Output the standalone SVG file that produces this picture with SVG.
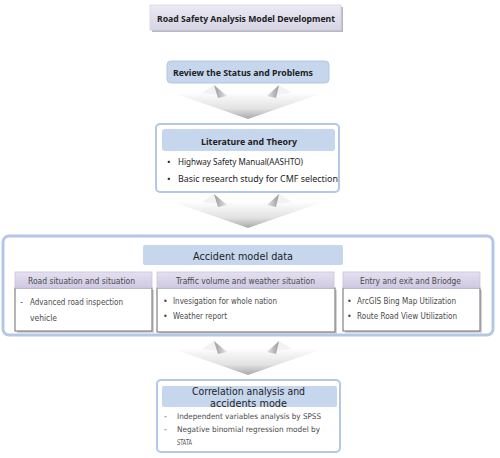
<svg xmlns="http://www.w3.org/2000/svg" width="500" height="458" viewBox="0 0 500 458">
<defs>
<linearGradient id="arrowG" x1="0" y1="0" x2="0" y2="1">
<stop offset="0" stop-color="#fdfdfd"/>
<stop offset="0.6" stop-color="#e2e2e2"/>
<stop offset="1" stop-color="#a8a8a8"/>
</linearGradient>
<linearGradient id="finG" x1="0" y1="0" x2="1" y2="0">
<stop offset="0" stop-color="#9a9a9a"/>
<stop offset="1" stop-color="#e6e6e6"/>
</linearGradient>
<linearGradient id="finG2" x1="1" y1="0" x2="0" y2="0">
<stop offset="0" stop-color="#9a9a9a"/>
<stop offset="1" stop-color="#e6e6e6"/>
</linearGradient>
<linearGradient id="subHead" x1="0" y1="0" x2="0" y2="1">
<stop offset="0" stop-color="#e4e0f0"/>
<stop offset="1" stop-color="#cfc8e2"/>
</linearGradient>
<linearGradient id="titleG" x1="0" y1="0" x2="0" y2="1">
<stop offset="0" stop-color="#eceaf3"/>
<stop offset="1" stop-color="#d6d3e4"/>
</linearGradient>
<g id="arrow">
<polygon points="-75,6 75,6 0,32" fill="url(#arrowG)"/>
<polygon points="-46,6 -34,-2 -21,9" fill="#f2f2f2"/>
<polygon points="-34,-2 -21,9 -30,11" fill="url(#finG)"/>
<polygon points="44,6 31,-2 19,9" fill="#f2f2f2"/>
<polygon points="31,-2 19,9 28,11" fill="url(#finG2)"/>
</g>
</defs>
<style>
.t{font-family:"Noto Sans","Liberation Sans",sans-serif;fill:#222}
.b{font-weight:bold}
.s{font-family:"DejaVu Sans","Liberation Sans",sans-serif;fill:#4a4a4a}
.h{font-family:"DejaVu Sans","Liberation Sans",sans-serif;fill:#1e1e1e}
.blue{fill:#c6d6ec}
.outer{fill:#fff;stroke:#b4c7e7}
.body{fill:#fff;stroke:#6a6a6a;stroke-width:1}
.shadow{fill:#d4d4d8}
.head{fill:url(#subHead);stroke:#c8c2dc;stroke-width:0.8}
</style>
<rect width="500" height="458" fill="#fff"/>

<g id="connectors">
<use href="#arrow" x="248" y="87"/>
<use href="#arrow" x="248" y="196"/>
<use href="#arrow" x="248" y="343"/>
</g>

<g id="title">
<rect x="152" y="7" width="191" height="25" fill="#b8b8c4"/>
<rect x="150" y="5" width="191" height="25" fill="url(#titleG)" stroke="#d8d6e2" stroke-width="0.8"/>
<text class="t b" x="157" y="21.5" font-size="9" textLength="178" lengthAdjust="spacingAndGlyphs">Road Safety Analysis Model Development</text>
</g>

<g id="review">
<rect x="167" y="61" width="162" height="22" rx="4" class="blue" stroke="#b3c6e2" stroke-width="1"/>
<text class="t b" x="173" y="75.5" font-size="9" textLength="140" lengthAdjust="spacingAndGlyphs">Review the Status and Problems</text>
</g>

<g id="literature">
<rect x="156" y="124" width="183" height="68" rx="4" class="outer" stroke-width="2"/>
<rect x="162" y="129" width="173" height="22" rx="3" class="blue"/>
<text class="t b" x="201" y="144.5" font-size="9.5" textLength="96" lengthAdjust="spacingAndGlyphs">Literature and Theory</text>
<text class="t" x="167" y="165" font-size="9.5">•</text>
<text class="t" x="178" y="165" font-size="9.5" textLength="125" lengthAdjust="spacingAndGlyphs">Highway Safety Manual(AASHTO)</text>
<text class="t" x="167" y="182" font-size="9.5">•</text>
<text class="t" x="178" y="182" font-size="9.5" textLength="160" lengthAdjust="spacingAndGlyphs">Basic research study for CMF selection</text>
</g>

<g id="accident">
<rect x="3" y="236" width="490" height="99" rx="6" class="outer" stroke-width="3"/>
<rect x="143" y="245" width="200" height="20" rx="2" class="blue"/>
<text class="h" x="193" y="259.5" font-size="10" textLength="100" lengthAdjust="spacingAndGlyphs">Accident model data</text>
</g>

<g id="road-situation">
<rect x="17" y="290" width="137" height="43" class="shadow"/>
<rect x="15" y="288" width="137" height="43" class="body"/>
<rect x="15" y="272" width="137" height="16" class="head"/>
<text class="s" x="28" y="283.5" font-size="8" textLength="107" lengthAdjust="spacingAndGlyphs">Road situation  and situation</text>
<text class="s" x="20" y="305" font-size="8">-</text>
<text class="s" x="30" y="305" font-size="8" textLength="93" lengthAdjust="spacingAndGlyphs">Advanced road inspection</text>
<text class="s" x="30" y="321" font-size="8" textLength="27" lengthAdjust="spacingAndGlyphs">vehicle</text>
</g>

<g id="traffic">
<rect x="159" y="290" width="178" height="44" class="shadow"/>
<rect x="157" y="288" width="178" height="44" class="body"/>
<rect x="157" y="272" width="177" height="16" class="head"/>
<text class="s" x="176" y="283.5" font-size="8" textLength="139" lengthAdjust="spacingAndGlyphs">Traffic volume and weather situation</text>
<text class="s" x="163" y="304" font-size="8">•</text>
<text class="s" x="173" y="304" font-size="8" textLength="104" lengthAdjust="spacingAndGlyphs">Invesigation for whole nation</text>
<text class="s" x="163" y="319" font-size="8">•</text>
<text class="s" x="173" y="319" font-size="8" textLength="54" lengthAdjust="spacingAndGlyphs">Weather report</text>
</g>

<g id="entry">
<rect x="345" y="290" width="137" height="43" class="shadow"/>
<rect x="343" y="288" width="137" height="43" class="body"/>
<rect x="343" y="272" width="137" height="16" class="head"/>
<text class="s" x="360" y="283.5" font-size="8" textLength="101" lengthAdjust="spacingAndGlyphs">Entry and exit and Briodge</text>
<text class="s" x="347" y="304" font-size="8">•</text>
<text class="s" x="357" y="304" font-size="8" textLength="99" lengthAdjust="spacingAndGlyphs">ArcGIS Bing Map Utilization</text>
<text class="s" x="347" y="319" font-size="8">•</text>
<text class="s" x="357" y="319" font-size="8" textLength="100" lengthAdjust="spacingAndGlyphs">Route Road View Utilization</text>
</g>

<g id="correlation">
<rect x="157" y="380" width="183" height="72" rx="4" class="outer" stroke-width="2"/>
<rect x="162" y="386" width="175" height="21" rx="2" class="blue"/>
<text class="h" x="192" y="395" font-size="10.5" textLength="113" lengthAdjust="spacingAndGlyphs">Correlation analysis  and</text>
<text class="h" x="210" y="407" font-size="10.5" textLength="77" lengthAdjust="spacingAndGlyphs">accidents mode</text>
<text class="s" x="164" y="419" font-size="7.8">-</text>
<text class="s" x="177" y="419" font-size="7.8" textLength="144" lengthAdjust="spacingAndGlyphs">Independent variables analysis by SPSS</text>
<text class="s" x="164" y="432" font-size="7.8">-</text>
<text class="s" x="177" y="432" font-size="7.8" textLength="143" lengthAdjust="spacingAndGlyphs">Negative binomial regression model by</text>
<text class="s" x="177" y="445" font-size="7.8" textLength="15" lengthAdjust="spacingAndGlyphs">STATA</text>
</g>
</svg>
